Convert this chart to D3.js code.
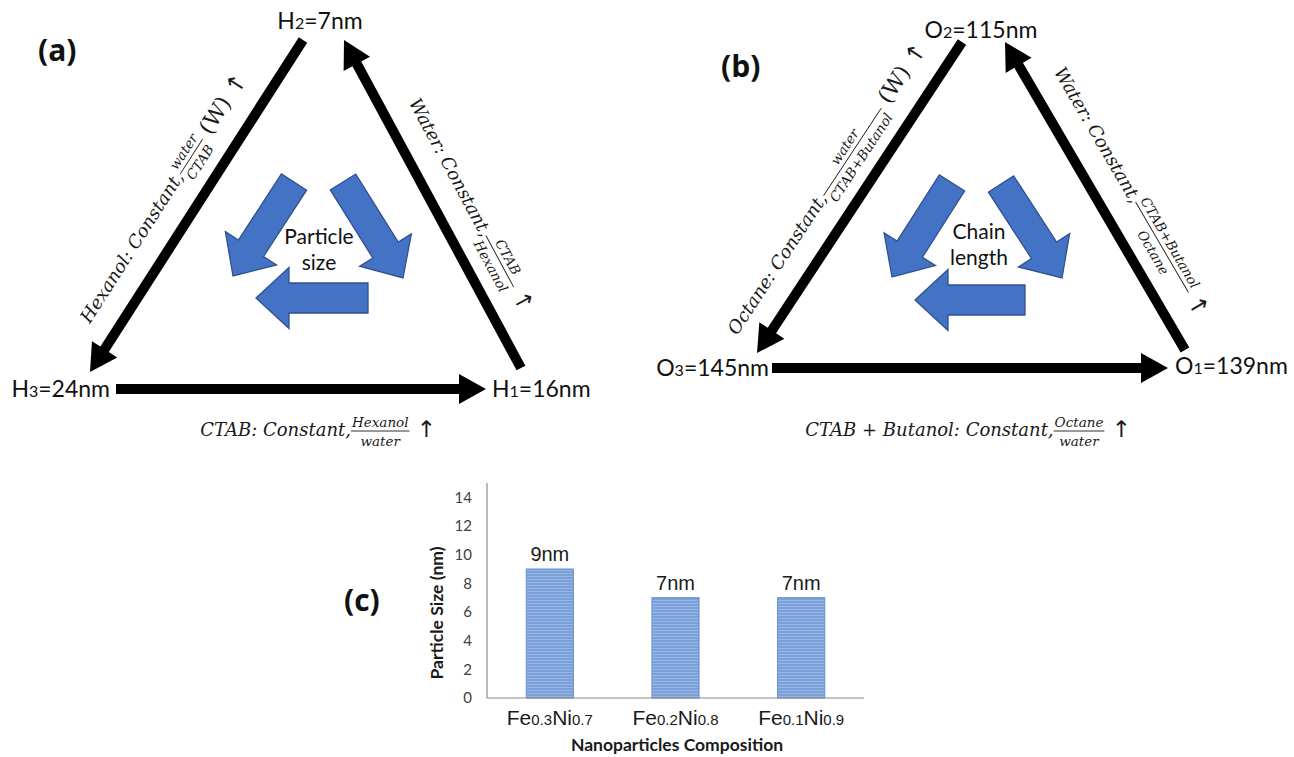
<!DOCTYPE html>
<html>
<head>
<meta charset="utf-8">
<script src="https://cdn.jsdelivr.net/npm/d3@7"></script>
<style>
  body { margin: 0; background: #fff; }
  svg { display: block; }
  .node { font-family: Lato, "Open Sans", sans-serif; font-size: 23px; fill: #111; }
  .panel { font-family: "Open Sans", Lato, sans-serif; font-weight: 700; font-size: 30px; fill: #111; }
  .mi { font-family: "DejaVu Serif", serif; font-style: italic; font-size: 18px; fill: #1a1a1a; }
  .frac { font-family: "DejaVu Serif", serif; font-style: italic; font-size: 13.5px; fill: #1a1a1a; }
  .mw { font-family: "DejaVu Serif", serif; font-size: 22px; fill: #1a1a1a; }
  .arr { font-family: "DejaVu Sans", sans-serif; font-size: 23px; fill: #1a1a1a; }
  .cyc { font-family: Lato, sans-serif; font-size: 21px; fill: #111; }
  .tick { font-family: Lato, sans-serif; font-size: 15px; fill: #404040; }
  .val { font-family: "Liberation Sans", Arial, sans-serif; font-size: 20px; fill: #1a1a1a; }
  .cat { font-family: "Liberation Sans", Arial, sans-serif; font-size: 21px; fill: #1a1a1a; }
  .atitle { font-family: Lato, sans-serif; font-weight: 700; font-size: 17.5px; fill: #1a1a1a; }
</style>
</head>
<body>
<svg id="fig" width="1294" height="757"></svg>
<script>
// ---- data -----------------------------------------------------------
// Hexanol microemulsion system: node names and particle sizes (nm)
const hexanolNodes = ["H1", "H2", "H3"];
const hexanolSizes = [16, 7, 24];
// Octane microemulsion system: node names and particle sizes (nm)
const octaneNodes = ["O1", "O2", "O3"];
const octaneSizes = [139, 115, 145];

// condition written along each edge: [H1->H2, H2->H3, H3->H1]
const hexanolEdges = [
  { lead: "Water: Constant, ", num: "CTAB", den: "Hexanol" },
  { lead: "Hexanol: Constant, ", num: "water", den: "CTAB", tail: "(W)" },
  { lead: "CTAB: Constant, ", num: "Hexanol", den: "water" }
];
const octaneEdges = [
  { lead: "Water: Constant, ", num: "CTAB+Butanol", den: "Octane" },
  { lead: "Octane: Constant, ", num: "water", den: "CTAB+Butanol", tail: "(W)" },
  { lead: "CTAB + Butanol: Constant, ", num: "Octane", den: "water" }
];
const cycleTextA = ["Particle", "size"];
const cycleTextB = ["Chain", "length"];

// Fe-Ni composition vs particle size
const compositions = [["Fe", "0.3", "Ni", "0.7"], ["Fe", "0.2", "Ni", "0.8"], ["Fe", "0.1", "Ni", "0.9"]];
const particleSizes = [9, 7, 7];
const sizeTicks = [0, 2, 4, 6, 8, 10, 12, 14];

// ---- helpers --------------------------------------------------------
const svg = d3.select("#fig");

// polygon for a straight arrow with a triangular head at (x2, y2)
function arrowPoints(x1, y1, x2, y2, w, hl, hw) {
  const dx = x2 - x1, dy = y2 - y1, L = Math.hypot(dx, dy);
  const ux = dx / L, uy = dy / L, nx = -uy, ny = ux;
  const bx = x2 - ux * hl, by = y2 - uy * hl;
  return [
    [x1 + nx * w / 2, y1 + ny * w / 2],
    [bx + nx * w / 2, by + ny * w / 2],
    [bx + nx * hw / 2, by + ny * hw / 2],
    [x2, y2],
    [bx - nx * hw / 2, by - ny * hw / 2],
    [bx - nx * w / 2, by - ny * w / 2],
    [x1 - nx * w / 2, y1 - ny * w / 2]
  ];
}
const line = d3.line();

function blackArrow(g, a, b) {
  g.append("path").attr("d", line(arrowPoints(a[0], a[1], b[0], b[1], 10, 27, 30)) + "Z")
    .attr("fill", "#000");
}
function blueArrow(g, a, b) {
  g.append("path").attr("d", line(arrowPoints(a[0], a[1], b[0], b[1], 30, 33, 61)) + "Z")
    .attr("fill", "#4472c4").attr("stroke", "#2f528f").attr("stroke-width", 1.3)
    .attr("stroke-linejoin", "miter");
}

// "lead  num/den  (tail) ↑" laid out left to right, centred on x = 0, baseline y = 0
function mathText(g, spec) {
  const inner = g.append("g");
  let x = 0;
  const lead = inner.append("text").attr("class", "mi").attr("x", 0).text(spec.lead);
  x += lead.node().getComputedTextLength();
  const n = inner.append("text").attr("class", "frac").attr("text-anchor", "middle").text(spec.num);
  const d = inner.append("text").attr("class", "frac").attr("text-anchor", "middle").text(spec.den);
  const w = Math.max(n.node().getComputedTextLength(), d.node().getComputedTextLength()) + 2;
  n.attr("x", x + w / 2).attr("y", -9.5);
  d.attr("x", x + w / 2).attr("y", 10);
  inner.append("line").attr("x1", x).attr("x2", x + w).attr("y1", -5).attr("y2", -5)
    .attr("stroke", "#1a1a1a").attr("stroke-width", 0.9);
  x += w + 7;
  if (spec.tail) {
    const t = inner.append("text").attr("class", "mw").attr("x", x).text(spec.tail);
    x += t.node().getComputedTextLength() + 8;
  }
  const ar = inner.append("text").attr("class", "arr").attr("x", x).attr("y", 1).text("\u2191");
  x += ar.node().getComputedTextLength();
  inner.attr("transform", `translate(${-x / 2},0)`);
}

// label running along segment from->to, centred at fraction t, baseline offset outward
function edgeLabel(g, from, to, t, offset, spec) {
  const dx = to[0] - from[0], dy = to[1] - from[1], L = Math.hypot(dx, dy);
  const ux = dx / L, uy = dy / L;
  const ang = Math.atan2(dy, dx) * 180 / Math.PI;
  const px = from[0] + ux * L * t + uy * offset;
  const py = from[1] + uy * L * t - ux * offset;
  mathText(g.append("g").attr("transform", `translate(${px},${py}) rotate(${ang})`), spec);
}

function nodeLabel(g, pos, name, size) {
  const t = g.append("text").attr("class", "node").attr("x", pos.x).attr("y", pos.y)
    .attr("text-anchor", pos.anchor);
  t.append("tspan").text(name[0]);
  t.append("tspan").attr("font-size", 16).text(name.slice(1));
  t.append("tspan").text(`=${size}nm`);
}

// ---- triangle diagrams ---------------------------------------------
function triangle(L, nodes, sizes, edges, cycleText) {
  const g = svg.append("g");
  g.append("text").attr("class", "panel").attr("x", L.tag[0]).attr("y", L.tag[1]).text(L.tagText);

  // node 1 -> node 2 (right edge), node 2 -> node 3 (left edge), node 3 -> node 1 (base)
  blackArrow(g, L.rightFoot, L.rightTip);
  blackArrow(g, L.leftTop, L.leftTip);
  blackArrow(g, L.baseStart, L.baseTip);

  nodes.forEach((nm, i) => nodeLabel(g, L.nodePos[i], nm, sizes[i]));

  edgeLabel(g, L.rightTip, L.rightFoot, L.rightT, 27, edges[0]);
  edgeLabel(g, L.leftTip, L.leftTop, L.leftT, 26, edges[1]);
  mathText(g.append("g").attr("transform", `translate(${L.baseLabel[0]},${L.baseLabel[1]})`), edges[2]);

  L.cycle.forEach(c => blueArrow(g, c[0], c[1]));
  cycleText.forEach((s, i) => g.append("text").attr("class", "cyc")
    .attr("x", L.cycleText[0]).attr("y", L.cycleText[1] + i * 26)
    .attr("text-anchor", "middle").text(s));
}

triangle({
  tag: [38, 61], tagText: "(a)",
  rightFoot: [521, 368], rightTip: [344, 40],
  leftTop: [303, 40], leftTip: [90, 372],
  baseStart: [116, 389], baseTip: [486, 389],
  nodePos: [{ x: 492, y: 397, anchor: "start" }, { x: 320, y: 29, anchor: "middle" }, { x: 110, y: 397, anchor: "end" }],
  rightT: 0.55, leftT: 0.47, baseLabel: [318, 436],
  cycle: [[[294, 182], [233, 276]], [[343, 182], [403, 278]], [[368, 298], [256, 298]]],
  cycleText: [319, 244]
}, hexanolNodes, hexanolSizes, hexanolEdges, cycleTextA);

triangle({
  tag: [721, 77], tagText: "(b)",
  rightFoot: [1185, 350], rightTip: [1005, 42],
  leftTop: [962, 42], leftTip: [757, 353],
  baseStart: [772, 368], baseTip: [1168, 368],
  nodePos: [{ x: 1175, y: 374, anchor: "start" }, { x: 981, y: 38, anchor: "middle" }, { x: 769, y: 376, anchor: "end" }],
  rightT: 0.54, leftT: 0.47, baseLabel: [968, 436],
  cycle: [[[952, 183], [892, 277]], [[1001, 184], [1062, 278]], [[1025, 300], [915, 300]]],
  cycleText: [979, 239]
}, octaneNodes, octaneSizes, octaneEdges, cycleTextB);

// ---- bar chart (c) --------------------------------------------------
const chart = svg.append("g");
chart.append("text").attr("class", "panel").attr("x", 344).attr("y", 611).attr("font-size", 31).text("(c)");

const defs = svg.append("defs");
const pat = defs.append("pattern").attr("id", "stripe").attr("patternUnits", "userSpaceOnUse")
  .attr("width", 8).attr("height", 3);
pat.append("rect").attr("width", 8).attr("height", 3).attr("fill", "#79a0d9");
pat.append("rect").attr("width", 8).attr("height", 1).attr("fill", "#98b7e5");

const x = d3.scaleBand().domain(d3.range(compositions.length)).range([487, 864])
  .paddingInner(0.625).paddingOuter(0.3125);
const y = d3.scaleLinear().domain([0, 15]).range([698, 483]);

chart.selectAll("rect.bar").data(particleSizes).join("rect").attr("class", "bar")
  .attr("x", (d, i) => x(i)).attr("width", x.bandwidth())
  .attr("y", d => y(d)).attr("height", d => y(0) - y(d))
  .attr("fill", "url(#stripe)").attr("stroke", "#6890cf").attr("stroke-width", 1);

chart.selectAll("text.val").data(particleSizes).join("text").attr("class", "val")
  .attr("x", (d, i) => x(i) + x.bandwidth() / 2).attr("y", d => y(d) - 8)
  .attr("text-anchor", "middle").text(d => `${d}nm`);

const yAxis = chart.append("g").attr("transform", "translate(487,0)")
  .call(d3.axisLeft(y).tickValues(sizeTicks).tickSize(0).tickPadding(15));
yAxis.select(".domain").remove();
yAxis.selectAll("text").attr("class", "tick").attr("font-family", null).attr("font-size", null).attr("fill", null);

chart.append("line").attr("x1", 487).attr("x2", 487).attr("y1", y(0)).attr("y2", y(15))
  .attr("stroke", "#8a8a8a").attr("stroke-width", 1.2);
chart.append("line").attr("x1", 487).attr("x2", 864).attr("y1", y(0)).attr("y2", y(0))
  .attr("stroke", "#8a8a8a").attr("stroke-width", 1.2);

const cats = chart.selectAll("text.cat").data(compositions).join("text").attr("class", "cat")
  .attr("x", (d, i) => x(i) + x.bandwidth() / 2).attr("y", 725).attr("text-anchor", "middle");
cats.each(function (d) {
  const t = d3.select(this);
  d.forEach((p, k) => t.append("tspan").attr("font-size", k % 2 ? 15 : 21).text(p));
});

chart.append("text").attr("class", "atitle").attr("x", 677).attr("y", 751)
  .attr("text-anchor", "middle").text("Nanoparticles Composition");
chart.append("text").attr("class", "atitle").attr("transform", "translate(443,613) rotate(-90)")
  .attr("text-anchor", "middle").text("Particle Size (nm)");
</script>
</body>
</html>
